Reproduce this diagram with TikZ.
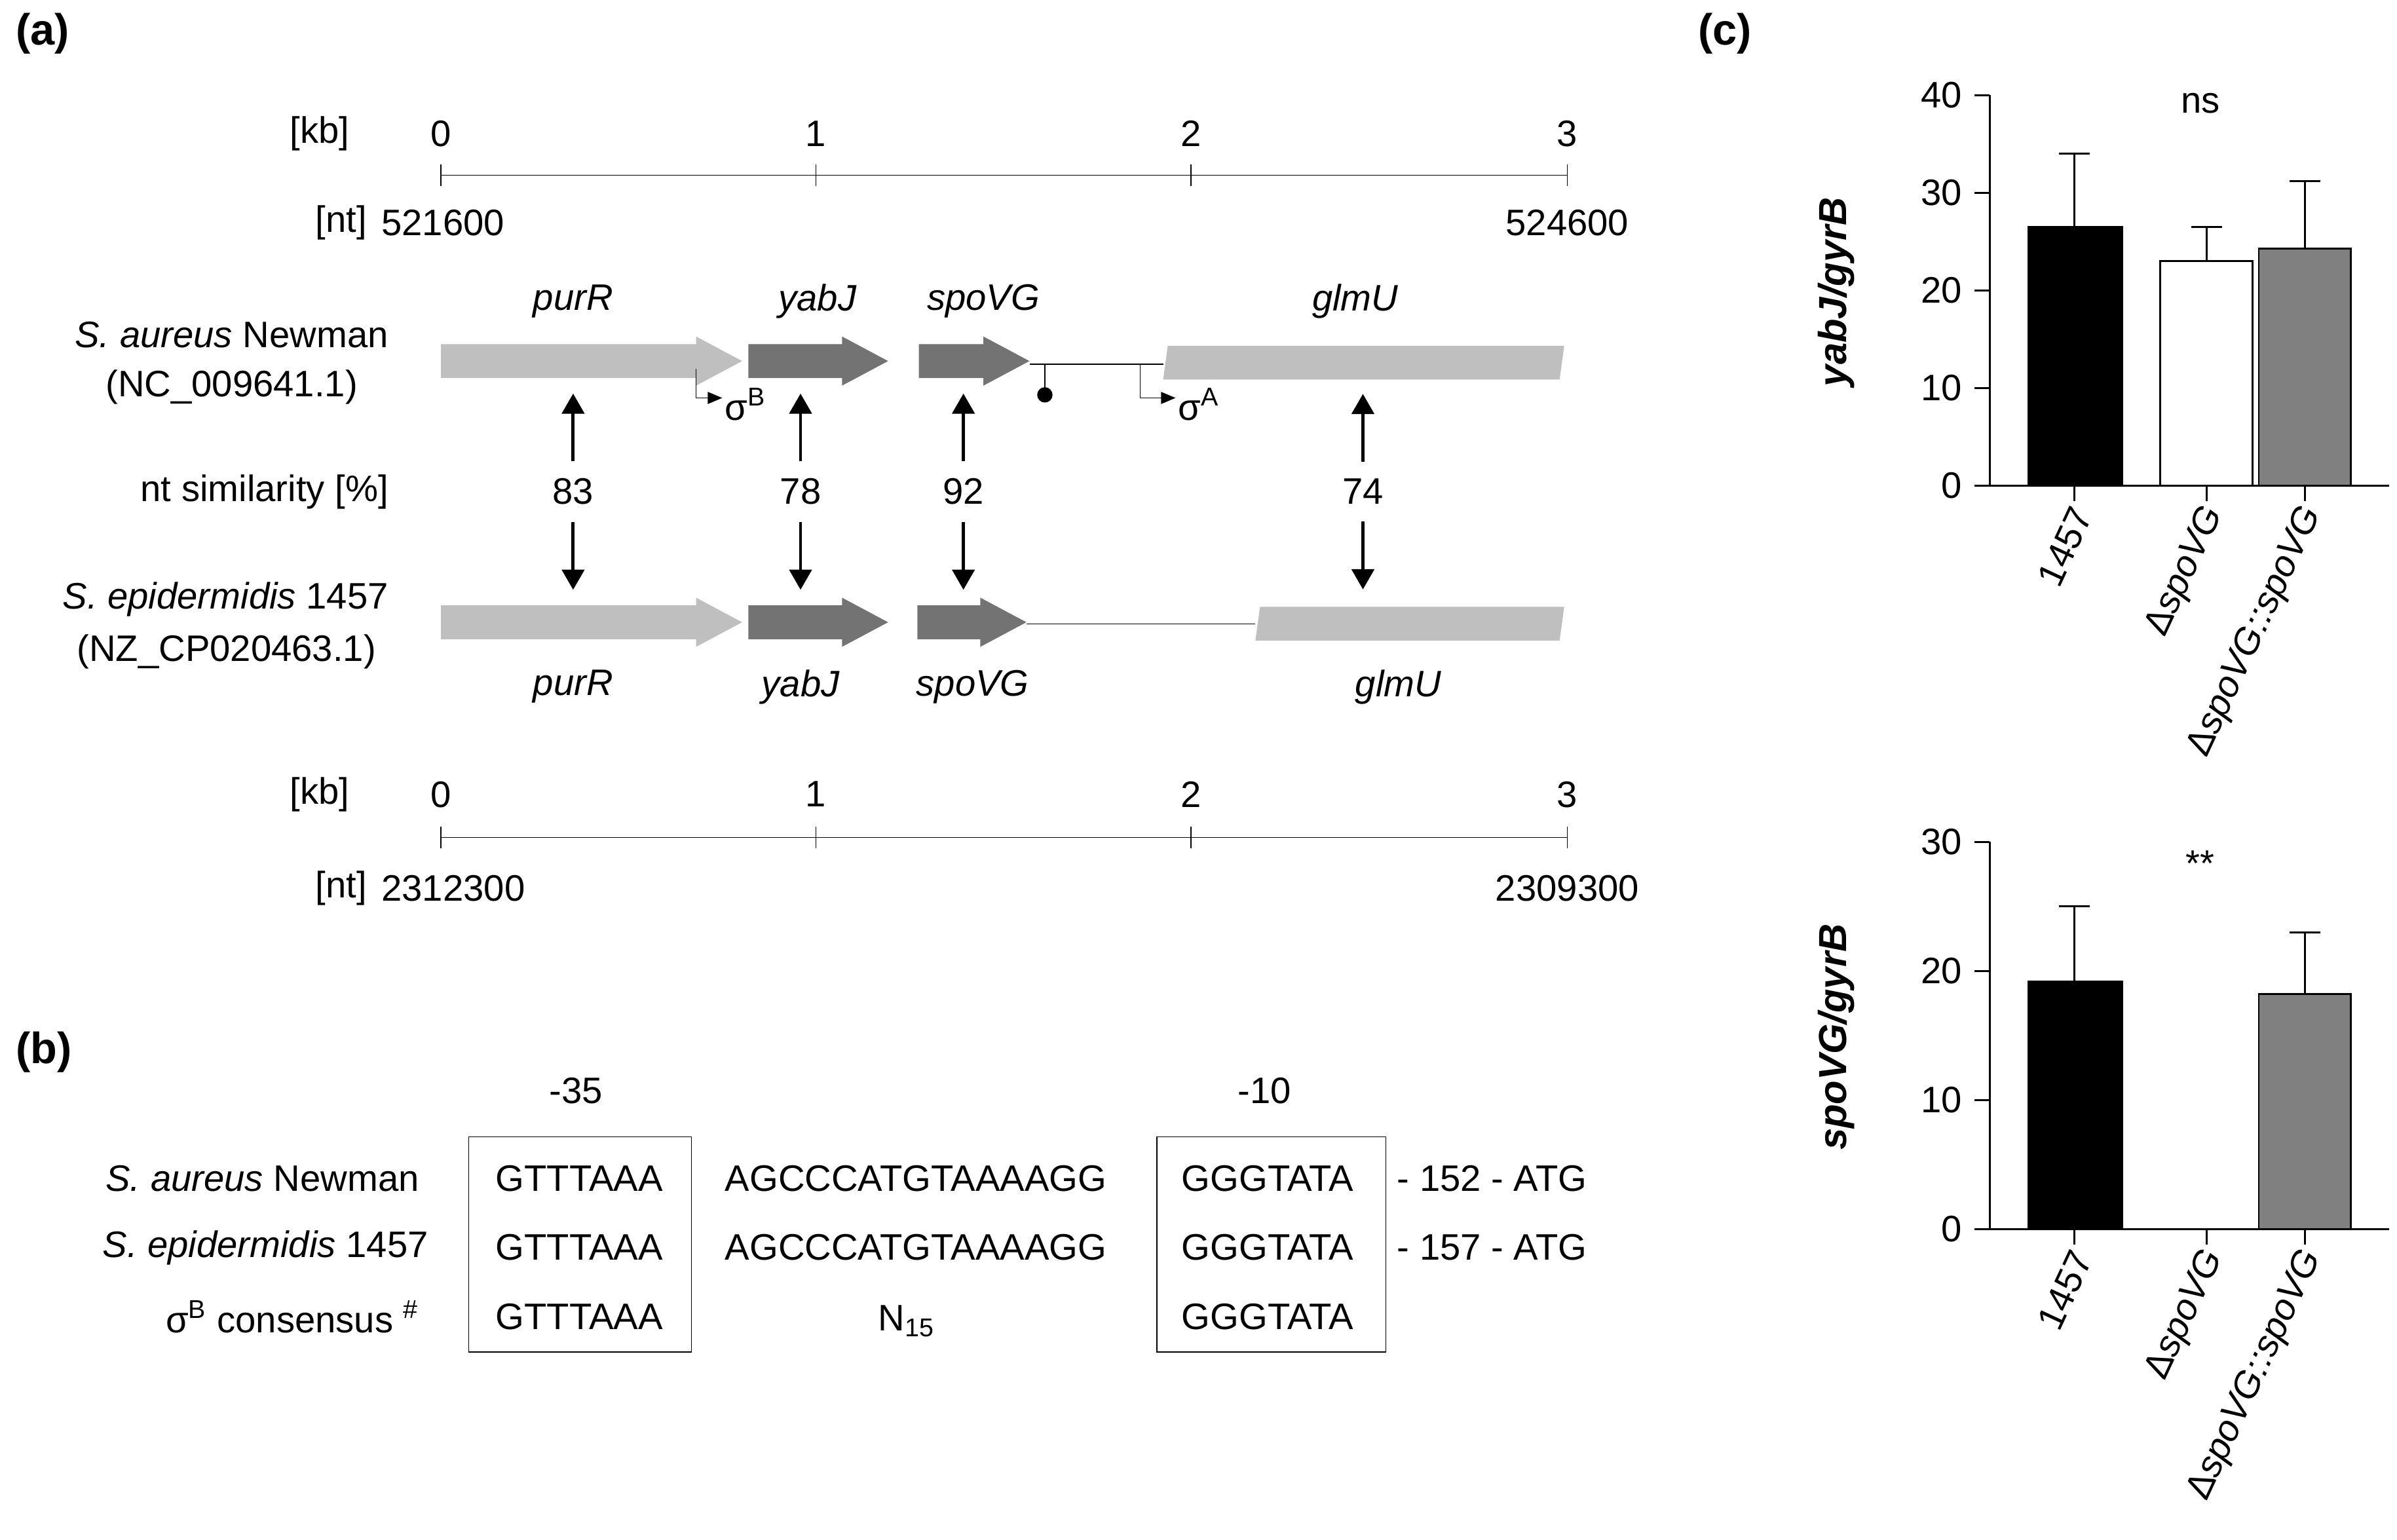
\documentclass[tikz,border=0pt]{standalone}
\usepackage{fontspec}
\setmainfont{Liberation Sans}
\usetikzlibrary{arrows,positioning}

\newcommand{\gene}[5]{% x1, x2, y, colour, arrow?
  \ifnum#5=1
    \fill[#4] (#1,#3-11) -- (#2-30,#3-11) -- (#2-30,#3-16) -- (#2,#3) -- (#2-30,#3+16) -- (#2-30,#3+11) -- (#1,#3+11) -- cycle;
  \else
    \fill[#4] (#1+3,#3-11) -- (#2,#3-11) -- (#2-3,#3+11) -- (#1,#3+11) -- cycle;
  \fi}

\begin{document}
\begin{tikzpicture}[
    x=0.02346cm,
    y=-0.02346cm,
    font=\fontsize{16}{19}\selectfont,
    panel/.style={font=\fontsize{19}{22}\selectfont\bfseries},
    lbl/.style={anchor=east, align=right},
    gname/.style={font=\fontsize{16}{19}\selectfont\itshape},
    arrow/.style={line width=1.4pt, -triangle 60},
    prom/.style={thin, -triangle 45},
    scale_line/.style={thin},
    seqbox/.style={draw, thin},
    bar/.style={draw=black, thick},
    errbar/.style={thick}
]
\useasboundingbox (0,0) rectangle (1560,1002);

% Panel (a)
\node[panel, anchor=west] (pa) at (5,22) {(a)};

% Skala oben
\draw[scale_line] (287,114) -- (1020,114);
\foreach \k/\x in {0/287,1/531,2/775,3/1020}{
  \draw[scale_line] (\x,107) -- (\x,121);
  \node (kbt\k) at (\x,87) {\k};
}
\node (kbt) at (208,87) {[kb]};
\node (ntt) at (222,145) {[nt]};
\node[anchor=west] (ntt1) at (243,145) {521600};
\node (ntt2) at (1020,145) {524600};

% S. aureus
\node[lbl] (sa) at (258,218) {\textit{S. aureus} Newman};
\node[lbl] (sanc) at (238,252) {(NC\_009641.1)};
\draw (670,237) -- (757,237);
\gene{287}{483}{235}{black!25}{1}
\gene{487}{578}{235}{black!55}{1}
\gene{598}{670}{235}{black!55}{1}
\gene{757}{1018}{236}{black!25}{0}
\draw (680,237) -- (680,255);
\fill (680,257) circle (5);
\draw[prom] (453,240) -- (453,259) -- (470,259);
\node[anchor=west, inner sep=1pt] (sigb) at (470,263) {σ\textsuperscript{B}};
\draw[prom] (742,237) -- (742,259) -- (765,259);
\node[anchor=west, inner sep=1pt] (siga) at (765,263) {σ\textsuperscript{A}};
\node[gname] (g1) at (373,196) {purR};
\node[gname] (g2) at (532,196) {yabJ};
\node[gname] (g3) at (640,196) {spoVG};
\node[gname] (g4) at (882,196) {glmU};

% Aehnlichkeit
\node[lbl] (sim) at (258,320) {nt similarity [\%]};
\foreach \v/\x in {83/373,78/521,92/627,74/887}{
  \node (n\v) at (\x,320) {\v};
  \draw[arrow] (n\v.north) ++(0,-6) -- ++(0,-44);
  \draw[arrow] (n\v.south) ++(0,6) -- ++(0,44);
}

% S. epidermidis
\node[lbl] (se) at (258,390) {\textit{S. epidermidis} 1457};
\node[lbl] (senc) at (250,424) {(NZ\_CP020463.1)};
\draw (668,406) -- (817,406);
\gene{287}{483}{405}{black!25}{1}
\gene{487}{578}{405}{black!55}{1}
\gene{597}{668}{405}{black!55}{1}
\gene{817}{1018}{406}{black!25}{0}
\node[gname] (h1) at (373,447) {purR};
\node[gname] (h2) at (521,447) {yabJ};
\node[gname] (h3) at (633,447) {spoVG};
\node[gname] (h4) at (910,447) {glmU};

% Skala unten
\draw[scale_line] (287,545) -- (1020,545);
\foreach \k/\x in {0/287,1/531,2/775,3/1020}{
  \draw[scale_line] (\x,538) -- (\x,552);
  \node (kbb\k) at (\x,517) {\k};
}
\node (kbb) at (208,517) {[kb]};
\node (ntb) at (222,578) {[nt]};
\node[anchor=west] (ntb1) at (243,578) {2312300};
\node (ntb2) at (1020,578) {2309300};

% Panel (b)
\node[panel, anchor=west] (pb) at (5,685) {(b)};
\node (m35) at (375,710) {-35};
\node (m10) at (823,710) {-10};
\draw[seqbox] (305,740) rectangle (450,880);
\draw[seqbox] (753,740) rectangle (902,880);
\node[lbl] (r1) at (278,767) {\textit{S. aureus} Newman};
\node[lbl] (r2) at (284,812) {\textit{S. epidermidis} 1457};
\node[lbl] (r3) at (278,857) {σ\textsuperscript{B} consensus \textsuperscript{\#}};
\foreach \y/\r in {767/1,812/2,857/3}{
  \node (b35\r) at (377,\y) {GTTTAAA};
  \node (b10\r) at (825,\y) {GGGTATA};
}
\node (sp1) at (596,767) {AGCCCATGTAAAAGG};
\node (sp2) at (596,812) {AGCCCATGTAAAAGG};
\node (sp3) at (590,860) {N\textsubscript{15}};
\node[anchor=west] (t1) at (904,767) {- 152 - ATG};
\node[anchor=west] (t2) at (904,812) {- 157 - ATG};

% Panel (c)
\node[panel, anchor=west] (pc) at (1100,22) {(c)};

% Diagramm oben: 0..40 -> 316..62
\draw[thick] (1295,62) -- (1295,316) -- (1555,316);
\foreach \v in {0,10,20,30,40}{
  \draw[thick] (1295,{316-6.35*\v}) -- (1285,{316-6.35*\v});
  \node[anchor=east] (ya\v) at (1282,{316-6.35*\v}) {\v};
}
\draw[bar, fill=black] (1320,316) rectangle (1381,{316-6.35*26.5});
\draw[bar, fill=white] (1406,316) rectangle (1466,{316-6.35*23});
\draw[bar, fill=black!50] (1470,316) rectangle (1530,{316-6.35*24.3});
\draw[errbar] (1350,{316-6.35*26.5}) -- (1350,{316-6.35*34}) (1340,{316-6.35*34}) -- (1360,{316-6.35*34});
\draw[errbar] (1436,{316-6.35*23}) -- (1436,{316-6.35*26.5}) (1426,{316-6.35*26.5}) -- (1446,{316-6.35*26.5});
\draw[errbar] (1500,{316-6.35*24.3}) -- (1500,{316-6.35*31.2}) (1490,{316-6.35*31.2}) -- (1510,{316-6.35*31.2});
\node (ns) at (1432,67) {ns};
\node[rotate=90, font=\fontsize{17}{20}\selectfont\bfseries\itshape] (yla) at (1195,190) {yabJ/gyrB};
\foreach \x/\t [count=\i] in {1350/1457,1436/Δ\textit{spoVG},1500/Δ\textit{spoVG::spoVG}}{
  \draw[thick] (\x,316) -- (\x,326);
  \node[rotate=65, anchor=east, inner sep=1pt] (xa\i) at (\x+6,330) {\t};
}

% Diagramm unten: 0..30 -> 800..548
\draw[thick] (1295,548) -- (1295,800) -- (1555,800);
\foreach \v in {0,10,20,30}{
  \draw[thick] (1295,{800-8.4*\v}) -- (1285,{800-8.4*\v});
  \node[anchor=east] (yb\v) at (1282,{800-8.4*\v}) {\v};
}
\draw[bar, fill=black] (1320,800) rectangle (1381,{800-8.4*19.2});
\draw[bar, fill=black!50] (1470,800) rectangle (1530,{800-8.4*18.2});
\draw[errbar] (1350,{800-8.4*19.2}) -- (1350,{800-8.4*25}) (1340,{800-8.4*25}) -- (1360,{800-8.4*25});
\draw[errbar] (1500,{800-8.4*18.2}) -- (1500,{800-8.4*23}) (1490,{800-8.4*23}) -- (1510,{800-8.4*23});
\node (ss) at (1432,562) {**};
\node[rotate=90, font=\fontsize{17}{20}\selectfont\bfseries\itshape] (ylb) at (1195,675) {spoVG/gyrB};
\foreach \x/\t [count=\i] in {1350/1457,1436/Δ\textit{spoVG},1500/Δ\textit{spoVG::spoVG}}{
  \draw[thick] (\x,800) -- (\x,810);
  \node[rotate=65, anchor=east, inner sep=1pt] (xb\i) at (\x+6,814) {\t};
}
\end{tikzpicture}
\end{document}
